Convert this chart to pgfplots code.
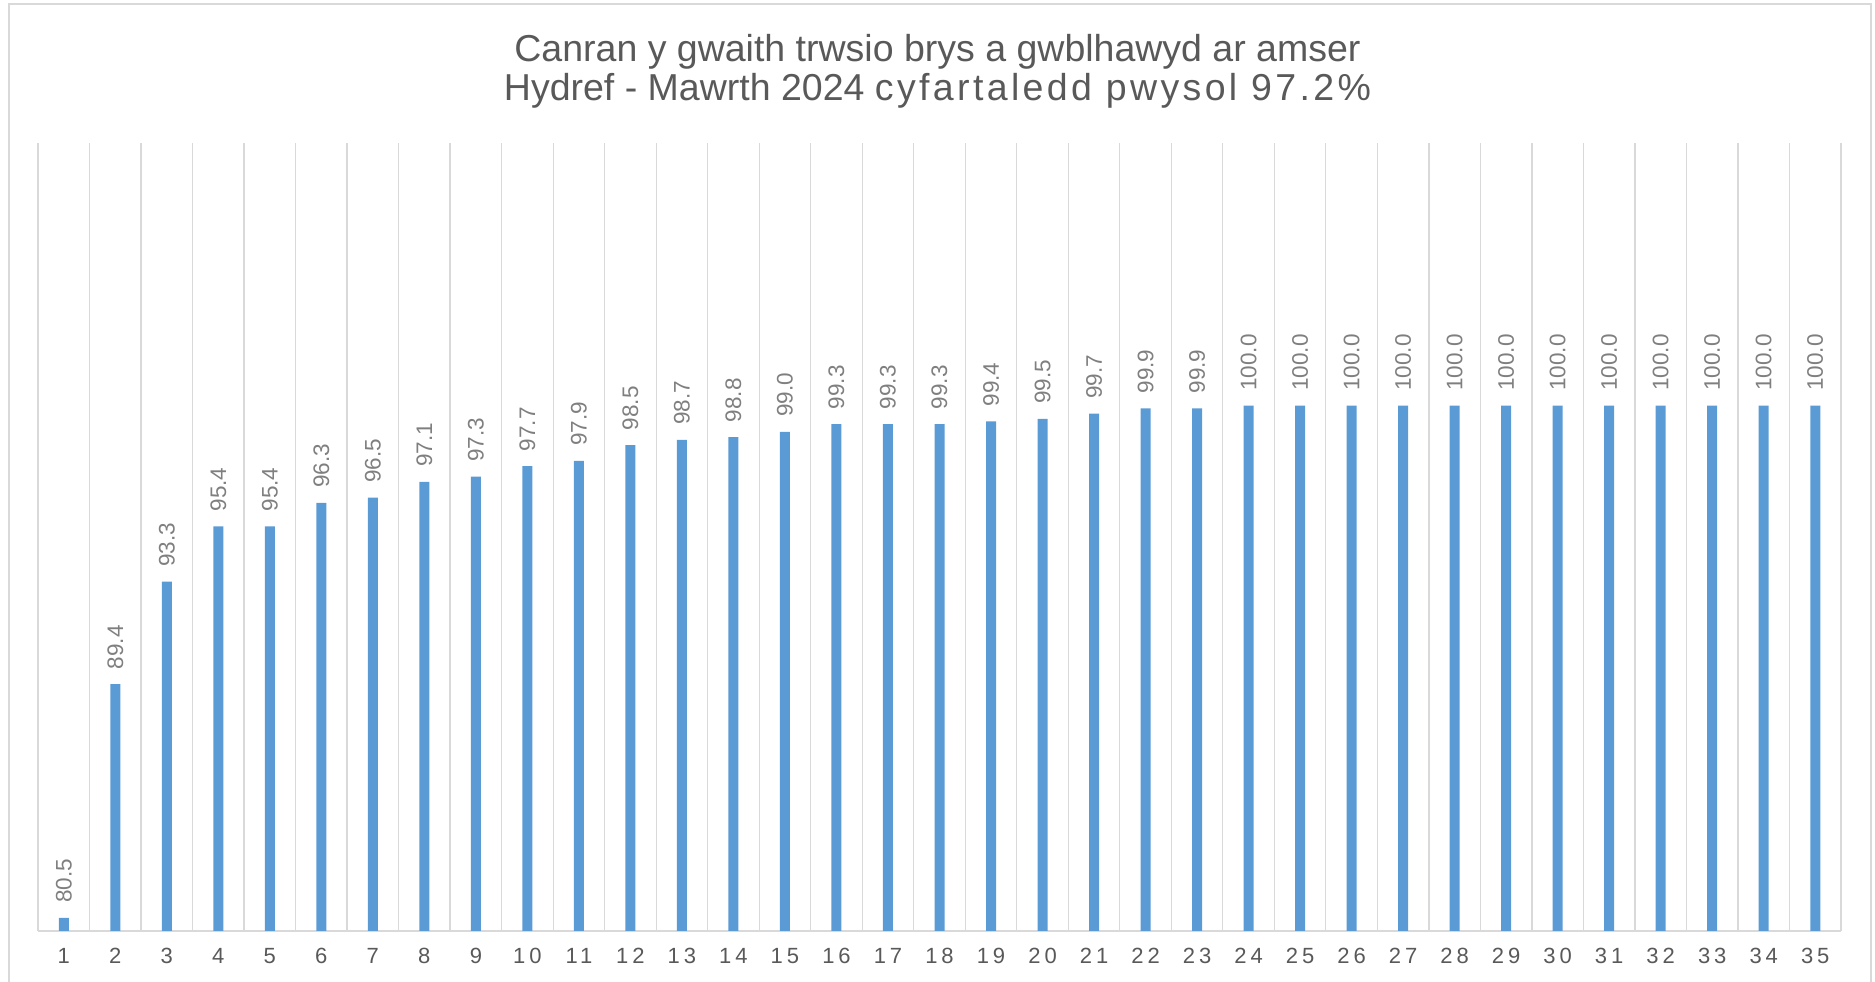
\documentclass[border=0pt]{standalone}
\usepackage{fontspec}
\setmainfont{Liberation Sans}
\usepackage{pgfplots}
\pgfplotsset{compat=1.18}
\definecolor{barblue}{HTML}{5B9BD5}
\definecolor{gridgray}{HTML}{D9D9D9}
\definecolor{txtgray}{HTML}{595959}
\definecolor{lblgray}{HTML}{7F7F7F}
\begin{document}
\begin{tikzpicture}
\useasboundingbox (0,0) rectangle (750pt,392.8pt);
\draw[gridgray, line width=0.6pt] (3.6pt,-10pt) rectangle (748.4pt,391.2pt);
\node[anchor=base, text=txtgray, font=\fontsize{15}{17}\selectfont] at (375pt,368pt) {Canran y gwaith trwsio brys a gwblhawyd ar amser};
\node[anchor=base, text=txtgray, font=\fontsize{15}{17}\selectfont] at (375pt,352.5pt) {Hydref - Mawrth 2024 {\addfontfeature{LetterSpace=9}cyfartaledd pwysol 97.2\%}};
\begin{axis}[
  at={(15.2pt,20.4pt)}, anchor=south west,
  scale only axis,
  width=721.2pt, height=315.2pt,
  xmin=0.5, xmax=35.5, ymin=80, ymax=110,
  axis line style={draw=none},
  ytick=\empty,
  xtick={0.5,1.5,...,35.5},
  xticklabels={},
  xmajorgrids,
  major grid style={gridgray, line width=0.5pt},
  major tick length=0pt,
  extra x ticks={1,2,...,35},
  extra x tick style={grid=none, major tick length=0pt},
  extra y ticks={80},
  extra y tick labels={},
  extra y tick style={grid=major, major tick length=0pt},
  /pgf/number format/assume math mode=true,
  xticklabel style={text=txtgray, font=\fontsize{8.8}{10}\selectfont\addfontfeature{LetterSpace=18}, inner sep=0pt, yshift=-6.8pt},
  ybar, bar width=4pt, bar shift=0pt,
  nodes near coords,
  every node near coord/.append style={/pgf/number format/fixed, /pgf/number format/fixed zerofill, /pgf/number format/precision=1, /pgf/number format/assume math mode=true, rotate=90, anchor=west, text=lblgray, font=\fontsize{9}{10}\selectfont, inner ysep=0pt, inner xsep=5.8pt},
]
\addplot[fill=barblue, draw=none] coordinates {
(1,80.5) (2,89.4) (3,93.3) (4,95.4) (5,95.4) (6,96.3) (7,96.5) (8,97.1) (9,97.3) (10,97.7)
(11,97.9) (12,98.5) (13,98.7) (14,98.8) (15,99.0) (16,99.3) (17,99.3) (18,99.3) (19,99.4) (20,99.5)
(21,99.7) (22,99.9) (23,99.9) (24,100.0) (25,100.0) (26,100.0) (27,100.0) (28,100.0) (29,100.0) (30,100.0)
(31,100.0) (32,100.0) (33,100.0) (34,100.0) (35,100.0)
};
\end{axis}
\end{tikzpicture}
\end{document}
